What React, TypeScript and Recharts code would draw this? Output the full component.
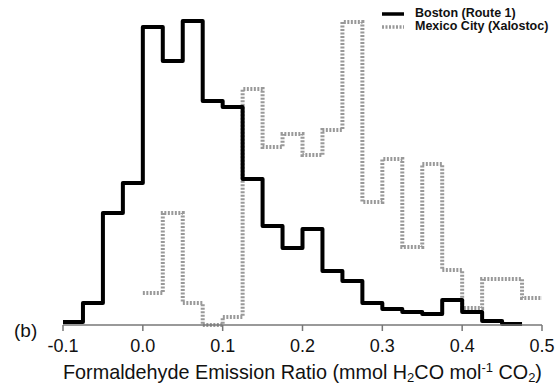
import React from 'react';
import { LineChart, Line, XAxis, YAxis, Label } from 'recharts';

// bin edges of the histograms (step width 0.025)
const binEdges = [
  -0.1, -0.075, -0.05, -0.025, 0.0, 0.025, 0.05, 0.075, 0.1, 0.125, 0.15, 0.175, 0.2,
  0.225, 0.25, 0.275, 0.3, 0.325, 0.35, 0.375, 0.4, 0.425, 0.45, 0.475, 0.5,
];
const bostonCounts = [
  3, 22, 112, 142, 298, 264, 304, 224, 218, 146, 99, 77, 96, 54, 44, 22, 16, 13, 11, 25, 13, 4,
  1, 1, null,
];
const mexicoCounts = [
  null, null, null, null, 32, 112, 22, 0, 8, 236, 178, 191, 170, 195, 303, 123, 166, 78, 161,
  55, 17, 46, 46, 27, 27,
];
const xTicks = [-0.1, 0.0, 0.1, 0.2, 0.3, 0.4, 0.5];
const seriesNames = ['Boston (Route 1)', 'Mexico City (Xalostoc)'];

const data = binEdges.map((x, i) => ({
  x,
  boston: bostonCounts[i],
  mexico: mexicoCounts[i],
}));

const FONT = '"Liberation Sans", Arial, Helvetica, sans-serif';
const MEXICO_GRAY = '#999';

const XTitle = (props: any) => {
  const { viewBox } = props;
  const cx = viewBox.x + viewBox.width / 2;
  const base = viewBox.y + 54;
  return (
    <g fontFamily={FONT} fill="#111">
      <text x={cx} y={base} textAnchor="middle" fontSize={19.8}>
        Formaldehyde Emission Ratio (mmol H<tspan dy={3} fontSize={13}>2</tspan>
        <tspan dy={-3}>CO mol</tspan>
        <tspan dy={-7} fontSize={13}>-1</tspan>
        <tspan dy={7}> CO</tspan>
        <tspan dy={3} fontSize={13}>2</tspan>
        <tspan dy={-3}>)</tspan>
      </text>
      <text x={14} y={viewBox.y + 12} fontSize={19}>(b)</text>
    </g>
  );
};

const YTitle = (props: any) => {
  const { viewBox } = props;
  const cx = viewBox.x - 28;
  const cy = 155;
  return (
    <text
      x={cx}
      y={cy}
      transform={`rotate(-90 ${cx} ${cy})`}
      textAnchor="middle"
      dominantBaseline="central"
      fontFamily={FONT}
      fontSize={19}
      fill="#111"
    >
      frequency
    </text>
  );
};

const LegendBox = () => (
  <div
    style={{
      position: 'absolute',
      left: 382,
      top: 7,
      fontFamily: FONT,
      fontSize: 12.5,
      fontWeight: 'bold',
      color: '#111',
      lineHeight: '13px',
    }}
  >
    <div style={{ display: 'flex', alignItems: 'center' }}>
      <svg width={22} height={13}>
        <line x1={0} x2={22} y1={7} y2={7} stroke="#000" strokeWidth={3.5} />
      </svg>
      <span style={{ marginLeft: 11 }}>{seriesNames[0]}</span>
    </div>
    <div style={{ display: 'flex', alignItems: 'center' }}>
      <svg width={22} height={13}>
        <line x1={0} x2={22} y1={7} y2={7} stroke={MEXICO_GRAY} strokeWidth={3.5} strokeDasharray="2 1.5" />
      </svg>
      <span style={{ marginLeft: 11 }}>{seriesNames[1]}</span>
    </div>
  </div>
);

export default function App() {
  return (
    <div style={{ position: 'absolute', left: 0, top: 0, width: 560, height: 386, background: '#fff' }}>
      <LineChart
        width={560}
        height={386}
        data={data}
        margin={{ top: 20, right: 18, bottom: 31, left: 63 }}
      >
        <XAxis
          dataKey="x"
          type="number"
          domain={[-0.1, 0.5]}
          ticks={xTicks}
          tickFormatter={(v: number) => v.toFixed(1)}
          axisLine={{ stroke: '#777', strokeWidth: 1.5 }}
          tickLine={{ stroke: '#777', strokeWidth: 1.5 }}
          tickSize={6}
          tickMargin={8}
          tick={{ fill: '#111', fontSize: 18, fontFamily: FONT }}
          height={30}
        >
          <Label content={XTitle} />
        </XAxis>
        <YAxis
          type="number"
          domain={[0, 305]}
          tick={false}
          tickLine={false}
          width={0}
          axisLine={{ stroke: '#777', strokeWidth: 1.5 }}
        >
          <Label content={YTitle} />
        </YAxis>
        <Line
          type="stepAfter"
          dataKey="mexico"
          name={seriesNames[1]}
          stroke={MEXICO_GRAY}
          strokeWidth={4}
          strokeDasharray="2 1.5"
          dot={false}
          isAnimationActive={false}
        />
        <Line
          type="stepAfter"
          dataKey="boston"
          name={seriesNames[0]}
          stroke="#000"
          strokeWidth={4}
          strokeLinejoin="round"
          dot={false}
          isAnimationActive={false}
        />
      </LineChart>
      <LegendBox />
    </div>
  );
}
